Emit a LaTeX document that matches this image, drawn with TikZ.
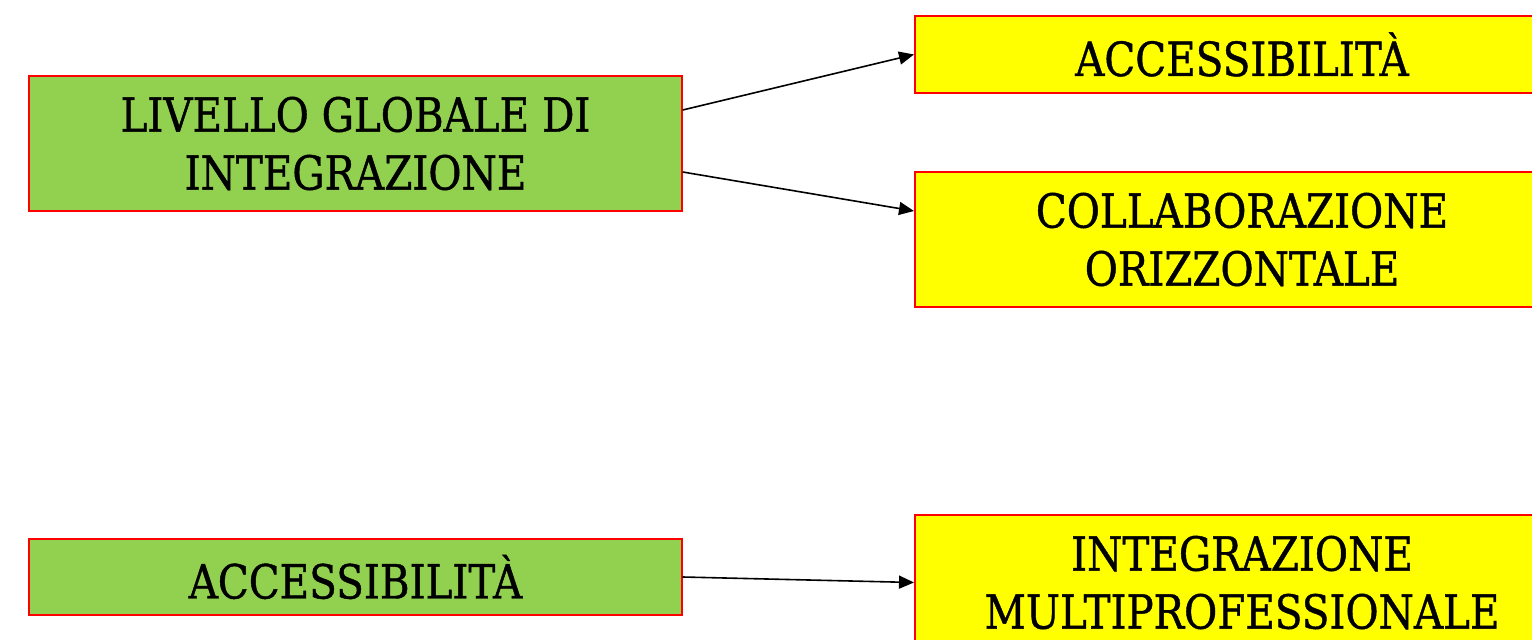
\documentclass[tikz,border=0pt]{standalone}
\usepackage{fontspec}
\setmainfont{DejaVu Serif}[FakeStretch=0.86,FakeBold=0.9]
\usetikzlibrary{arrows.meta}
\definecolor{boxgreen}{HTML}{92D050}
\definecolor{boxyellow}{HTML}{FFFF00}
\definecolor{boxred}{HTML}{FF0000}
\tikzset{
  basebox/.style={rectangle, draw=boxred, align=center, inner sep=0pt,
    font=\fontsize{47}{58}\selectfont, text=black},
  greenbox/.style={basebox, fill=boxgreen, line width=1.4pt, minimum width=653pt},
  yellowbox/.style={basebox, fill=boxyellow, line width=2pt, minimum width=654pt},
  link/.style={line width=1.6pt, -{Triangle[length=15pt,width=13pt]}}
}
\begin{document}
\begin{tikzpicture}[x=1pt,y=1pt]
\clip (0,0) rectangle (1532,-640);
\fill[white] (0,0) rectangle (1532,-640);
\node[greenbox, minimum height=135pt] (g1) at (355.5,-143.5) {LIVELLO GLOBALE DI\\INTEGRAZIONE};
\node[greenbox, minimum height=76pt] (g2) at (355.5,-577) {ACCESSIBILITÀ};
\node[yellowbox, minimum height=77pt] (y1) at (1242,-54.5) {ACCESSIBILITÀ};
\node[yellowbox, minimum height=135pt] (y2) at (1242,-239.5) {COLLABORAZIONE\\ORIZZONTALE};
\node[yellowbox, minimum height=135pt] (y3) at (1242,-582.5) {INTEGRAZIONE\\MULTIPROFESSIONALE};
\draw[link] ([yshift=33.5pt]g1.east) -- (y1.west);
\draw[link] ([yshift=-28.5pt]g1.east) -- ([yshift=28.5pt]y2.west);
\draw[link] (g2.east) -- (y3.west);
\end{tikzpicture}
\end{document}
